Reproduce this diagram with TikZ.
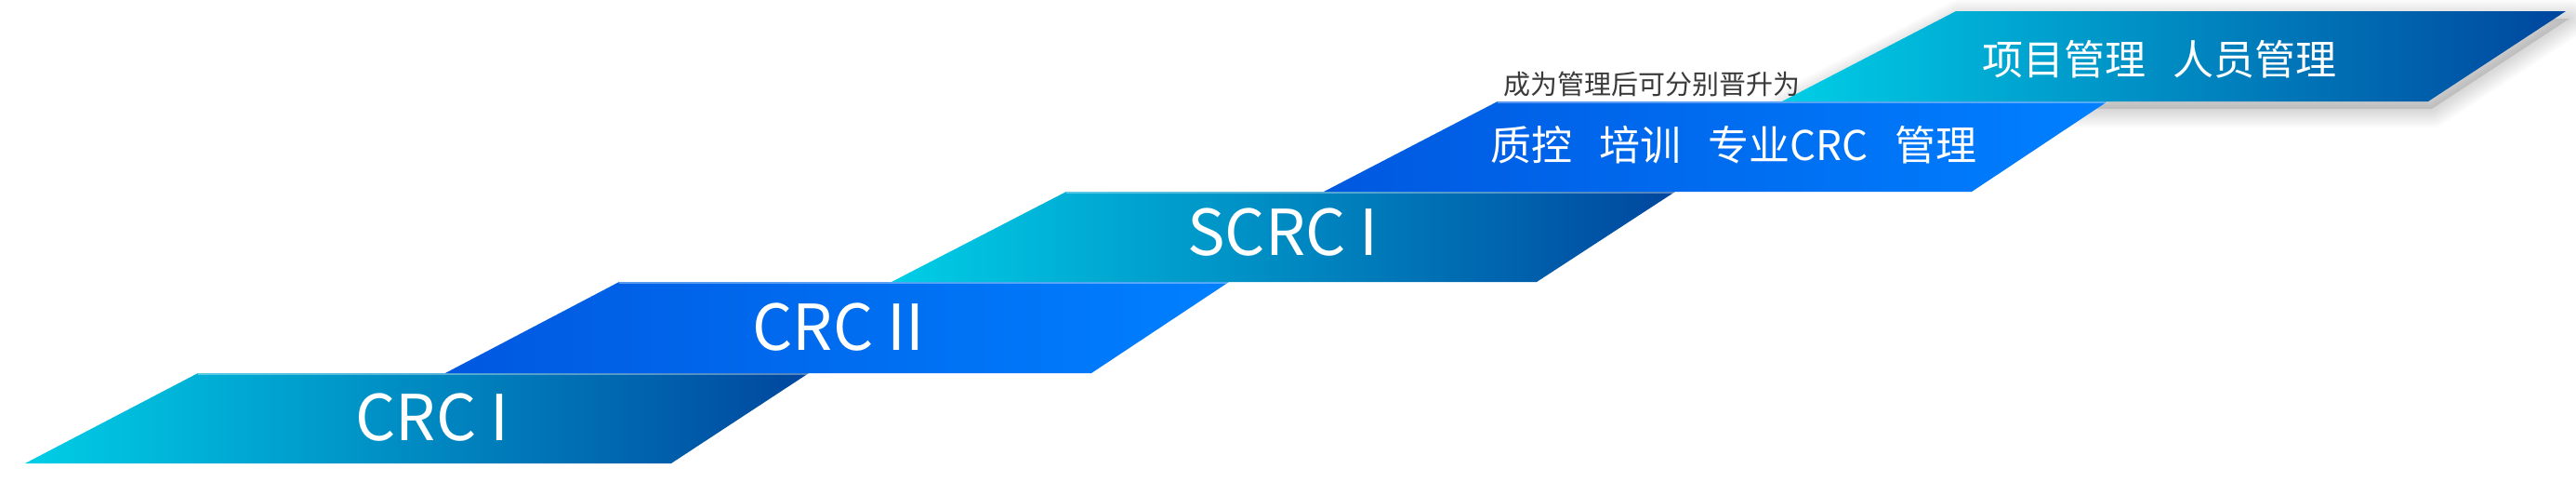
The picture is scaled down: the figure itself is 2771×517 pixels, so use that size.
\documentclass[tikz,border=0pt]{standalone}
\usepackage{fontspec}
\newfontfamily\cjk{Noto Sans CJK SC}
\definecolor{cyanL}{RGB}{0,206,230}
\definecolor{cyanR}{RGB}{0,70,158}
\definecolor{blueL}{RGB}{0,88,224}
\definecolor{blueR}{RGB}{0,128,255}
\definecolor{notegray}{RGB}{58,58,58}
\tikzset{
  cyanband/.style={left color=cyanL, right color=cyanR},
  blueband/.style={left color=blueL, right color=blueR},
  topline/.style={draw=white, draw opacity=0.35, line width=1.5pt},
  bigtext/.style={text=white, inner sep=0pt, font=\cjk\fontsize{68}{80}\selectfont},
  midtext/.style={text=white, inner sep=0pt, font=\cjk\fontsize{44}{52}\selectfont},
  notetext/.style={text=notegray, inner sep=0pt, font=\cjk\fontsize{29}{34}\selectfont},
  shadowlayer/.style={draw=black, draw opacity=0.016, line join=round}
}
\begin{document}
\begin{tikzpicture}[x=1pt, y=-1pt]
\useasboundingbox (0,0) rectangle (2771,517);
% soft shadow of the top band
\foreach \w in {40,36,...,4}{
  \path[shadowlayer, line width=\w pt] (1921,117) -- (2108,20) -- (2764,20) -- (2616,117) -- cycle;
}
\fill[black, opacity=0.12] (1921,117) -- (2108,20) -- (2764,20) -- (2616,117) -- cycle;
% bands
\path[cyanband] (27,498) -- (213,401) -- (870,401) -- (722,498) -- cycle;
\draw[topline] (213,401.8) -- (870,401.8);
\path[blueband] (479,401) -- (666,303) -- (1322,303) -- (1174,401) -- cycle;
\draw[topline] (666,303.8) -- (1322,303.8);
\path[cyanband] (959,303) -- (1147,206) -- (1802,206) -- (1653,303) -- cycle;
\draw[topline] (1147,206.8) -- (1802,206.8);
\path[blueband] (1424,206) -- (1611,109) -- (2267,109) -- (2121,206) -- cycle;
\draw[topline] (1611,109.8) -- (2267,109.8);
\path[cyanband] (1917,109) -- (2104,12) -- (2760,12) -- (2612,109) -- cycle;
% labels
\node[bigtext] (crc1) at (465,449) {CRC I};
\node[bigtext] (crc2) at (902,352) {CRC II};
\node[bigtext] (scrc1) at (1380,250) {SCRC I};
\node[midtext] (qc) at (1865,156) {质控\hspace{29pt}培训\hspace{29pt}专业CRC\hspace{29pt}管理};
\node[midtext] (pm) at (2323,64) {项目管理\hspace{30pt}人员管理};
\node[notetext] (note) at (1777,91) {成为管理后可分别晋升为};
\end{tikzpicture}
\end{document}
